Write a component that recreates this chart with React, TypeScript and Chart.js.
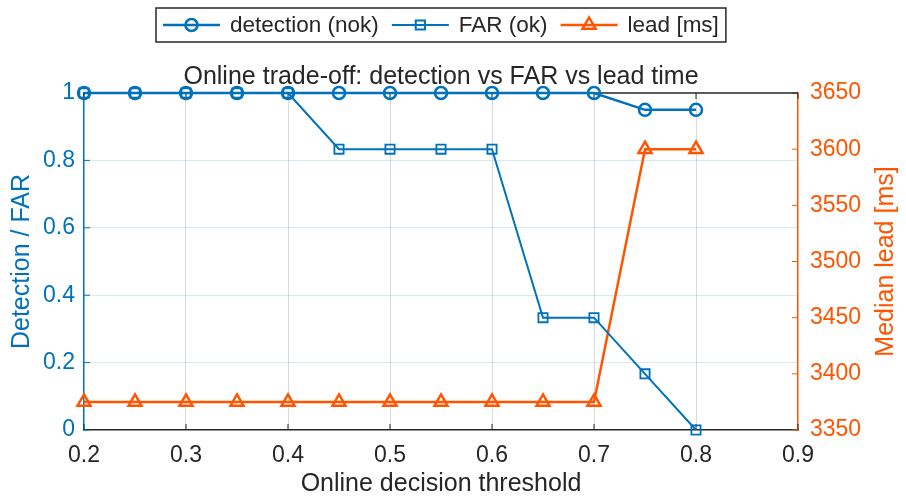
import { useEffect, useRef } from "react";
import { Chart, ChartConfiguration, Plugin, registerables } from "chart.js";

Chart.register(...registerables);

const thresholds = [0.2, 0.25, 0.3, 0.35, 0.4, 0.45, 0.5, 0.55, 0.6, 0.65, 0.7, 0.75, 0.8];
const detection = [1, 1, 1, 1, 1, 1, 1, 1, 1, 1, 1, 0.95, 0.95];
const far = [1, 1, 1, 1, 1, 0.8333, 0.8333, 0.8333, 0.8333, 0.3333, 0.3333, 0.1667, 0];
const leadMs = [3375, 3375, 3375, 3375, 3375, 3375, 3375, 3375, 3375, 3375, 3375, 3600, 3600];
const rightTitle = "Median lead [ms]";

const BLUE = "#0072BD";
const ORANGE = "#FF5500";
const DARK = "#262626";
const FONT = "'Liberation Sans', Arial, sans-serif";

function marker(ctx: CanvasRenderingContext2D, style: string, x: number, y: number, r: number) {
  ctx.beginPath();
  if (style === "circle") {
    ctx.arc(x, y, r, 0, Math.PI * 2);
  } else if (style === "rect") {
    const s = r * Math.SQRT1_2;
    ctx.rect(x - s, y - s, 2 * s, 2 * s);
  } else {
    ctx.moveTo(x, y - r);
    ctx.lineTo(x + 0.866 * r, y + 0.5 * r);
    ctx.lineTo(x - 0.866 * r, y + 0.5 * r);
    ctx.closePath();
  }
  ctx.stroke();
}

// MATLAB-like boxed legend with line + marker samples
const boxLegend: Plugin = {
  id: "boxLegend",
  afterDraw(chart) {
    const { ctx, chartArea } = chart;
    ctx.save();
    ctx.font = `22.5px ${FONT}`;
    const sample = 57, gap = 10, spacing = 13, pad = 7;
    const items = chart.data.datasets.map((ds: any) => ({
      label: ds.label as string,
      color: ds.borderColor as string,
      width: ds.borderWidth as number,
      style: ds.pointStyle as string,
      r: ds.pointRadius as number,
      tw: ctx.measureText(ds.label).width,
    }));
    const total = pad * 2 + items.reduce((a, it) => a + sample + gap + it.tw, 0) + spacing * (items.length - 1);
    const cx = (chartArea.left + chartArea.right) / 2;
    const top = 8, h = 34, cy = top + h / 2;
    let x = Math.round(cx - total / 2);
    ctx.fillStyle = "#fff";
    ctx.fillRect(x, top, total, h);
    ctx.strokeStyle = DARK;
    ctx.lineWidth = 1.5;
    ctx.strokeRect(x, top, total, h);
    x += pad;
    items.forEach((it) => {
      ctx.strokeStyle = it.color;
      ctx.lineWidth = it.width;
      ctx.beginPath();
      ctx.moveTo(x, cy);
      ctx.lineTo(x + sample, cy);
      ctx.stroke();
      marker(ctx, it.style, x + sample / 2, cy, it.r);
      ctx.fillStyle = DARK;
      ctx.textBaseline = "middle";
      ctx.fillText(it.label, x + sample + gap, cy + 1);
      x += sample + gap + it.tw + spacing;
    });

    // right axis title reads bottom-to-top like MATLAB's yyaxis label
    ctx.translate(886, (chartArea.top + chartArea.bottom) / 2);
    ctx.rotate(-Math.PI / 2);
    ctx.font = `25px ${FONT}`;
    ctx.fillStyle = ORANGE;
    ctx.textAlign = "center";
    ctx.textBaseline = "middle";
    ctx.fillText(rightTitle, 0, 0);
    ctx.restore();
  },
};

// top box line and inward tick marks
const axesBox: Plugin = {
  id: "axesBox",
  beforeDatasetsDraw(chart) {
    const { ctx, chartArea, scales } = chart;
    const len = 6;
    ctx.save();
    ctx.lineWidth = 1;
    ctx.strokeStyle = DARK;
    scales.x.ticks.forEach((t) => {
      const px = scales.x.getPixelForValue(t.value);
      ctx.beginPath();
      ctx.moveTo(px, chartArea.bottom);
      ctx.lineTo(px, chartArea.bottom - len);
      ctx.moveTo(px, chartArea.top);
      ctx.lineTo(px, chartArea.top + len);
      ctx.stroke();
    });
    ctx.strokeStyle = BLUE;
    scales.y.ticks.forEach((t) => {
      const py = scales.y.getPixelForValue(t.value);
      ctx.beginPath();
      ctx.moveTo(chartArea.left, py);
      ctx.lineTo(chartArea.left + len, py);
      ctx.stroke();
    });
    ctx.strokeStyle = ORANGE;
    scales.y1.ticks.forEach((t) => {
      const py = scales.y1.getPixelForValue(t.value);
      ctx.beginPath();
      ctx.moveTo(chartArea.right, py);
      ctx.lineTo(chartArea.right - len, py);
      ctx.stroke();
    });
    ctx.strokeStyle = DARK;
    ctx.lineWidth = 1.5;
    ctx.beginPath();
    ctx.moveTo(chartArea.left, chartArea.top);
    ctx.lineTo(chartArea.right, chartArea.top);
    ctx.stroke();
    ctx.restore();
  },
};

function TradeoffChart() {
  const canvasRef = useRef<HTMLCanvasElement>(null);
  const chartRef = useRef<Chart | null>(null);

  useEffect(() => {
    if (!canvasRef.current) return;
    if (chartRef.current) chartRef.current.destroy();
    const ctx = canvasRef.current.getContext("2d");
    if (!ctx) return;

    const config: ChartConfiguration = {
      type: "line",
      data: {
        datasets: [
          {
            label: "detection (nok)",
            data: thresholds.map((t, i) => ({ x: t, y: detection[i] })),
            yAxisID: "y",
            borderColor: BLUE,
            backgroundColor: "transparent",
            borderWidth: 2.5,
            pointStyle: "circle",
            pointRadius: 6,
            pointBorderWidth: 2.5,
            pointBorderColor: BLUE,
            pointBackgroundColor: "transparent",
            clip: false as any,
          },
          {
            label: "FAR (ok)",
            data: thresholds.map((t, i) => ({ x: t, y: far[i] })),
            yAxisID: "y",
            borderColor: BLUE,
            backgroundColor: "transparent",
            borderWidth: 2,
            pointStyle: "rect",
            pointRadius: 6.5,
            pointBorderWidth: 1.8,
            pointBorderColor: BLUE,
            pointBackgroundColor: "transparent",
            clip: false as any,
          },
          {
            label: "lead [ms]",
            data: thresholds.map((t, i) => ({ x: t, y: leadMs[i] })),
            yAxisID: "y1",
            borderColor: ORANGE,
            backgroundColor: "transparent",
            borderWidth: 2.5,
            pointStyle: "triangle",
            pointRadius: 7.5,
            pointBorderWidth: 2.5,
            pointBorderColor: ORANGE,
            pointBackgroundColor: "transparent",
            clip: false as any,
          },
        ],
      },
      options: {
        responsive: true,
        maintainAspectRatio: false,
        animation: false,
        layout: { padding: 0 },
        plugins: {
          legend: { display: false },
          tooltip: { enabled: false },
          title: {
            display: true,
            text: "Online trade-off: detection vs FAR vs lead time",
            color: DARK,
            fullSize: false,
            font: { family: FONT, size: 25, weight: "normal" },
            padding: { top: 62, bottom: 1 },
          },
        },
        scales: {
          x: {
            type: "linear",
            min: 0.2,
            max: 0.9,
            afterFit: (s: any) => { s.height = 71; },
            ticks: {
              stepSize: 0.1,
              color: DARK,
              padding: 12,
              font: { family: FONT, size: 23 },
              callback: (v) => Number(v).toFixed(1),
            },
            grid: {
              drawTicks: false,
              lineWidth: 1,
              color: (c: any) =>
                c.tick && (c.tick.value < 0.201 || c.tick.value > 0.899) ? "transparent" : "rgba(0,0,0,0.15)",
            },
            border: { color: DARK, width: 1.5 },
            title: {
              display: true,
              text: "Online decision threshold",
              color: DARK,
              font: { family: FONT, size: 25 },
              padding: { top: 0, bottom: 2 },
            },
          },
          y: {
            type: "linear",
            position: "left",
            min: 0,
            max: 1,
            afterFit: (s: any) => { s.width = 84; },
            ticks: {
              stepSize: 0.2,
              color: BLUE,
              padding: 9,
              font: { family: FONT, size: 23 },
              callback: (v) => String(Math.round(Number(v) * 10) / 10),
            },
            grid: {
              drawTicks: false,
              lineWidth: 1,
              color: (c: any) =>
                c.tick && (c.tick.value < 0.01 || c.tick.value > 0.99) ? "transparent" : "rgba(0,114,189,0.15)",
            },
            border: { color: BLUE, width: 1.5 },
            title: {
              display: true,
              text: "Detection / FAR",
              color: BLUE,
              font: { family: FONT, size: 25 },
              padding: { top: 7, bottom: 0 },
            },
          },
          y1: {
            type: "linear",
            position: "right",
            min: 3350,
            max: 3650,
            afterFit: (s: any) => { s.width = 108; },
            ticks: {
              stepSize: 50,
              color: ORANGE,
              padding: 12,
              font: { family: FONT, size: 23 },
              callback: (v) => String(v),
            },
            grid: { drawOnChartArea: false, drawTicks: false },
            border: { color: ORANGE, width: 1.5 },
            title: { display: false },
          },
        },
      },
      plugins: [axesBox, boxLegend],
    };

    chartRef.current = new Chart(ctx, config);
    return () => {
      if (chartRef.current) {
        chartRef.current.destroy();
        chartRef.current = null;
      }
    };
  }, []);

  return (
    <div style={{ position: "fixed", left: 0, top: 0, width: 906, height: 501, background: "#fff" }}>
      <canvas ref={canvasRef} />
    </div>
  );
}

export default function App() {
  return <TradeoffChart />;
}
